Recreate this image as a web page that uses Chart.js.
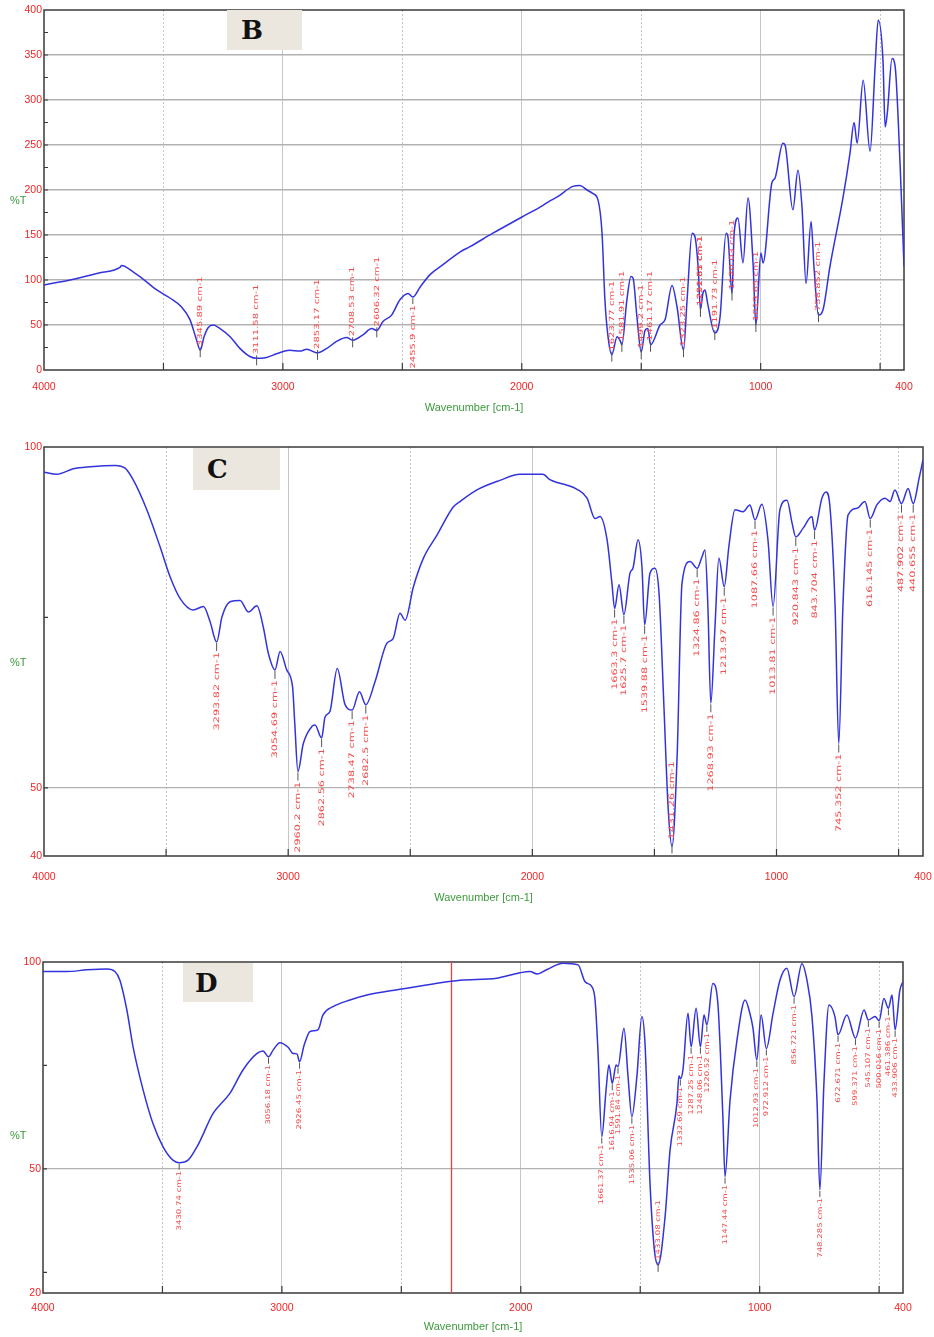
<!DOCTYPE html>
<html><head><meta charset="utf-8">
<script src="https://cdn.jsdelivr.net/npm/chart.js@4.4.1/dist/chart.umd.min.js"></script>
<style>
html,body{margin:0;padding:0;background:#fff;}
body{width:934px;height:1337px;position:relative;overflow:hidden;font-family:"Liberation Sans",Arial,sans-serif;}
.wrap{position:absolute;left:0;width:934px;}
.wrap canvas{display:block;}
.tag{position:absolute;background:#ebe7de;font-family:"DejaVu Serif","Liberation Serif",serif;font-weight:bold;font-size:26px;color:#111;box-sizing:border-box;display:flex;align-items:center;}
.pt{position:absolute;color:#3c9a3c;font-size:11px;font-family:"Liberation Sans",Arial,sans-serif;}
</style></head>
<body>
<div class="wrap" style="top:0;height:420px"><canvas id="cB" width="934" height="420"></canvas></div>
<div class="wrap" style="top:430px;height:480px"><canvas id="cC" width="934" height="480"></canvas></div>
<div class="wrap" style="top:940px;height:397px"><canvas id="cD" width="934" height="397"></canvas></div>
<div class="tag" style="left:227px;top:10px;width:75px;height:40px;padding-left:14px">B</div>
<div class="tag" style="left:193px;top:448px;width:87px;height:42px;padding-left:14px">C</div>
<div class="tag" style="left:183px;top:963px;width:70px;height:39px;padding-left:12px">D</div>
<div class="pt" style="left:10px;top:194px">%T</div>
<div class="pt" style="left:10px;top:656px">%T</div>
<div class="pt" style="left:10px;top:1129px">%T</div>
<script>
// ---------- shared axis values ----------
const X_TICKS = [400, 500, 1000, 1500, 2000, 2500, 3000, 3500, 4000];
const X_LABELED = [4000, 3000, 2000, 1000, 400];
const X_MAJOR_GRID = [1000, 2000, 3000];
const X_MINOR_GRID = [500, 1500, 2500, 3500];
const X_TITLE = 'Wavenumber [cm-1]';

// ---------- panel B ----------
const waveB = [4000,3891,3766,3682,3675,3627,3585,3528,3473,3424,3389,3361,3346,3330,3313,3292,3263,3221,3180,3138,3110,3068,3026,2971,2929,2900,2855,2816,2774,2733,2708,2665,2628,2607,2581,2545,2510,2476,2456,2426,2384,2330,2259,2217,2121,1999,1911,1882,1853,1786,1757,1727,1702,1681,1664,1652,1639,1623,1601,1589,1581,1560,1543,1534,1518,1500,1484,1472,1461,1421,1400,1371,1350,1323,1308,1287,1275,1262,1252,1242,1233,1222,1192,1170,1145,1137,1120,1111,1095,1074,1053,1032,1020,999,990,953,940,907,898,865,844,827,810,789,777,758,739,710,655,626,609,596,571,542,521,508,488,479,470,450,437,416,400];
const transB = [94.5,100,108,114,116,109,101,89,80,70,56,33,22,37,47,50,46,37,24,15,13,14,18,22,21,23,19,24,32,36,33,39,46,44,54,61,78,85,81,92,106,117,131,137,152,170,183,188,192,204,205,200,196,189,152,78,37,17,37,33,28,78,104,102,59,20,44,46,28,50,56,94,70,22,78,152,148,115,67,85,89,74,41,59,152,148,85,152,169,119,191,119,50,130,119,208,213,252,250,178,222,181,96,165,115,61,67,115,192,241,275,252,322,243,337,389,344,270,285,346,337,226,115];
const peaksB = [3345.89,3111.58,2853.17,2708.53,2606.32,2455.9,1623.77,1581.91,1499.2,1461.17,1323.25,1251.51,1222.65,1191.73,1120.03,1019.65,758.852];
const peakSideB = ['a','a','a','a','a','b','a','a','a','a','a','a','a','a','a','a','a'];
const yTicksB = [0,25,50,75,100,125,150,175,200,225,250,275,300,325,350,375,400];
const yLabelsB = [0,50,100,150,200,250,300,350,400];
const yGridB = [50,100,150,200,250,300,350];

// ---------- panel C ----------
const waveC = [4000,3948,3880,3811,3709,3668,3635,3579,3525,3484,3443,3389,3347,3320,3293,3271,3238,3197,3163,3128,3102,3081,3054,3033,3006,2982,2973,2960,2938,2903,2890,2863,2849,2829,2799,2767,2738,2708,2682,2644,2596,2570,2542,2521,2487,2446,2390,2324,2296,2227,2133,2051,1957,1928,1899,1858,1817,1776,1743,1723,1694,1674,1663,1645,1625,1600,1588,1567,1551,1540,1518,1498,1481,1461,1444,1428,1407,1387,1354,1325,1305,1293,1281,1269,1252,1236,1214,1195,1170,1137,1109,1088,1060,1035,1014,986,957,936,921,891,855,844,814,797,781,760,745,728,707,670,638,616,589,556,535,515,488,461,440,416,400];
const transC = [96.3,96.0,96.8,97.1,97.3,96.9,95.2,90.8,85.4,81.0,77.8,76.1,76.6,74.4,71.4,75.1,77.3,77.5,75.8,76.7,73.6,69.7,67.3,70.0,67.3,64.8,59.5,52.4,56.5,59.0,59.2,57.3,60.4,61.2,67.5,62.2,61.4,64.1,62.2,65.6,71.2,71.9,75.6,74.6,79.5,83.7,87.1,91.2,92.0,93.7,95.1,96.0,96.0,95.2,94.8,94.4,93.8,92.5,89.5,89.8,86.4,80.0,76.3,79.8,75.4,81.5,82.2,86.4,82.4,73.9,81.5,82.2,78.5,61.9,47.2,41.4,54.6,80.0,83.2,82.2,83.9,84.9,76.6,62.4,73.6,83.7,79.5,85.4,90.8,90.5,91.5,89.3,91.6,86.4,76.6,90.8,92.2,88.8,86.8,88.1,89.8,87.8,92.5,93.4,91.2,76.6,56.5,76.6,90.0,91.0,92.0,89.5,91.5,92.5,92.0,93.7,91.7,93.9,91.7,95.4,98.1];
const peaksC = [3293.82,3054.69,2960.2,2862.56,2738.47,2682.5,1663.3,1625.7,1539.88,1431.26,1324.86,1268.93,1213.97,1087.66,1013.81,920.843,843.704,745.352,616.145,487.902,440.655];
const peakSideC = ['b','b','b','b','b','b','b','b','b','a','b','b','b','b','b','b','b','b','b','b','b'];
const yTicksC = [40,50,75,100];
const yLabelsC = [40,50,100];
const yGridC = [50];

// ---------- panel D ----------
const waveD = [4000,3900,3816,3732,3699,3678,3649,3623,3581,3540,3498,3456,3430,3393,3351,3288,3217,3163,3104,3079,3056,3037,3008,2974,2953,2937,2926,2907,2882,2849,2828,2786,2715,2644,2506,2367,2254,2100,2003,1961,1932,1890,1823,1760,1731,1702,1689,1677,1661,1643,1631,1617,1601,1593,1568,1551,1535,1514,1493,1480,1459,1440,1425,1396,1375,1346,1338,1332,1321,1300,1287,1266,1248,1233,1221,1196,1175,1154,1145,1124,1095,1061,1041,1028,1012,994,972,944,915,886,856,823,802,781,760,748,731,710,685,672,635,599,563,545,517,500,480,461,446,433,413,400];
const transD = [97.7,97.7,98.1,98.3,97.7,95.6,88.4,79.5,69.1,61.0,55.4,52.1,51.5,52.1,55.8,63.4,68.3,73.9,77.9,78.5,77.1,78.7,80.5,79.4,77.9,77.8,75.9,79.9,83.2,83.6,87.2,89.2,90.8,92.0,93.4,94.7,95.6,96.1,97.4,97.7,97.1,98.2,99.7,99.3,95.2,94.0,90.8,78.7,57.8,69.1,75.1,70.7,75.1,74.7,84.0,72.3,62.6,72.3,86.8,80.3,46.5,30.0,26.8,38.4,54.6,66.0,72.5,71.8,74.0,87.6,79.5,88.8,79.5,87.2,84.8,94.8,90.0,62.6,48.1,66.6,81.1,90.8,87.6,84.0,76.3,87.2,79.1,87.6,95.6,98.5,91.6,99.6,95.6,86.8,66.6,44.9,70.7,89.6,86.8,82.4,87.2,81.6,88.4,86.0,86.8,85.8,91.2,88.8,92.0,83.6,93.2,95.2];
const peaksD = [3430.74,3056.18,2926.45,1661.37,1616.94,1591.84,1535.06,1433.08,1332.69,1287.25,1248.06,1220.52,1147.44,1012.93,972.912,856.721,748.285,672.671,599.371,545.107,500.016,461.386,433.906];
const peakSideD = ['b','b','b','b','b','b','b','a','b','b','b','b','b','b','b','b','b','b','b','b','b','b','b'];
const yTicksD = [20,25,50,75,100];
const yLabelsD = [20,50,100];
const yGridD = [50];
const markerD = 2290;

// ---------- drawing ----------
function localMinima(t) {
  const out = [];
  for (let i = 1; i < t.length - 1; i++) if (t[i] < t[i-1] && t[i] <= t[i+1]) out.push(i);
  return out;
}

function makePanel(p) {
  const canvas = document.getElementById(p.id);
  const data = p.wave.map((w, i) => ({x: w, y: p.t[i]}));
  const datasets = [{data, xAxisID: 'x', yAxisID: 'y', borderColor: '#3333dd', borderWidth: 1.5,
    pointRadius: 0, cubicInterpolationMode: 'monotone', fill: false}];
  if (p.marker) datasets.push({data: [{x: p.marker, y: p.ymin}, {x: p.marker, y: p.ymax}], xAxisID: 'x', yAxisID: 'y',
    borderColor: '#e8403a', borderWidth: 1.3, pointRadius: 0, fill: false});
  const mins = localMinima(p.t);

  const framePlugin = {
    id: 'frame' + p.id,
    beforeDatasetsDraw(chart) {
      const {ctx, chartArea: a} = chart;
      const xs = chart.scales.x, ys = chart.scales.y;
      ctx.save();
      ctx.strokeStyle = '#3a3a3a';
      ctx.lineWidth = 1.5;
      ctx.strokeRect(a.left, a.top, a.right - a.left, a.bottom - a.top);
      ctx.beginPath();
      ctx.lineWidth = 1.2;
      xs.ticks.forEach(t => {
        if (t.value === xs.min || t.value === xs.max) return;
        const px = xs.getPixelForValue(t.value);
        ctx.moveTo(px, a.bottom); ctx.lineTo(px, a.bottom - 7);
      });
      ys.ticks.forEach(t => {
        if (t.value === ys.min || t.value === ys.max) return;
        const py = ys.getPixelForValue(t.value);
        ctx.moveTo(a.left, py); ctx.lineTo(a.left + 4, py);
      });
      ctx.stroke();
      ctx.restore();
    }
  };

  const peakPlugin = {
    id: 'peaks' + p.id,
    afterDatasetsDraw(chart) {
      const {ctx} = chart;
      const xs = chart.scales.x, ys = chart.scales.y;
      p.peaks.forEach((w, k) => {
        let best = mins[0], bd = 1e9;
        mins.forEach(i => { const d = Math.abs(p.wave[i] - w); if (d < bd) { bd = d; best = i; } });
        const px = xs.getPixelForValue(p.wave[best]);
        const py = ys.getPixelForValue(p.t[best]);
        const above = p.side[k] === 'a';
        ctx.save();
        ctx.strokeStyle = '#555';
        ctx.lineWidth = 1;
        ctx.beginPath();
        ctx.moveTo(px, above ? py - 3 : py + 1);
        ctx.lineTo(px, above ? py + 7 : py + p.gapB - 1);
        ctx.stroke();
        ctx.translate(px, above ? py - p.gapA : py + p.gapB);
        ctx.rotate(-Math.PI / 2);
        ctx.scale(p.sx, 1);
        ctx.font = p.lfs + 'px "DejaVu Sans"';
        ctx.fillStyle = '#f44a4a';
        ctx.textAlign = above ? 'left' : 'right';
        ctx.textBaseline = 'middle';
        ctx.fillText(String(w) + ' cm-1', 0, 0);
        ctx.restore();
      });
    }
  };

  const tickFont = {family: '"Liberation Sans", Arial, sans-serif', size: 10.5};
  new Chart(canvas, {
    type: 'line',
    data: {datasets},
    options: {
      responsive: false, animation: false, events: [],
      layout: {padding: {left: 0, top: p.top, right: 934 - p.right, bottom: p.h - p.axisBottom}},
      plugins: {legend: {display: false}, tooltip: {enabled: false}},
      scales: {
        x: {
          type: 'linear', reverse: true, min: 400, max: 4000, position: 'bottom',
          afterBuildTicks: s => { s.ticks = X_TICKS.map(v => ({value: v})); },
          afterFit: s => { s.height = p.axisBottom - p.bottom; s.paddingLeft = 0; s.paddingRight = 0; },
          ticks: {autoSkip: false, maxRotation: 0, minRotation: 0, padding: p.xTickPad, color: '#ee2424', font: tickFont,
            callback: v => X_LABELED.includes(v) ? String(v) : ''},
          grid: {drawTicks: false, lineWidth: 1,
            color: c => (c.tick && X_MAJOR_GRID.includes(c.tick.value)) ? '#c6c6c6' : 'rgba(0,0,0,0)'},
          border: {display: false},
          title: {display: true, text: X_TITLE, color: '#3c9a3c', padding: 0,
            font: {family: '"Liberation Sans", Arial, sans-serif', size: 11}}
        },
        x2: {
          type: 'linear', reverse: true, min: 400, max: 4000, position: 'bottom',
          afterBuildTicks: s => { s.ticks = X_MINOR_GRID.map(v => ({value: v})); },
          afterFit: s => { s.height = 0; s.paddingLeft = 0; s.paddingRight = 0; },
          ticks: {display: false},
          grid: {drawTicks: false, lineWidth: 1, color: '#c6c6c6'},
          border: {display: false, dash: [2, 2]}
        },
        y: {
          type: 'linear', min: p.ymin, max: p.ymax, position: 'left',
          afterBuildTicks: s => { s.ticks = p.yTicks.map(v => ({value: v})); },
          afterFit: s => { s.width = p.left; s.paddingTop = 0; s.paddingBottom = 0; },
          ticks: {padding: 2, color: '#ee2424', font: tickFont,
            callback: v => p.yLabels.includes(v) ? String(v) : ''},
          grid: {drawTicks: false, lineWidth: p.yGridW,
            color: c => (c.tick && p.yGrid.includes(c.tick.value)) ? '#b2b2b2' : 'rgba(0,0,0,0)'},
          border: {display: false}
        }
      }
    },
    plugins: [framePlugin, peakPlugin]
  });
}

makePanel({id: 'cB', wave: waveB, t: transB, peaks: peaksB, side: peakSideB,
  yTicks: yTicksB, yLabels: yLabelsB, yGrid: yGridB, ymin: 0, ymax: 400, yGridW: 1.4,
  h: 420, top: 10, bottom: 370, left: 44, right: 904, axisBottom: 414.6, xTickPad: 11,
  gapA: 4, gapB: 8, lfs: 7, sx: 1.43});
makePanel({id: 'cC', wave: waveC, t: transC, peaks: peaksC, side: peakSideC,
  yTicks: yTicksC, yLabels: yLabelsC, yGrid: yGridC, ymin: 40, ymax: 100, yGridW: 1.2,
  h: 480, top: 17, bottom: 426, left: 44, right: 923, axisBottom: 474.6, xTickPad: 15,
  gapA: 7, gapB: 10, lfs: 7.5, sx: 1.5});
makePanel({id: 'cD', wave: waveD, t: transD, peaks: peaksD, side: peakSideD,
  yTicks: yTicksD, yLabels: yLabelsD, yGrid: yGridD, ymin: 20, ymax: 100, yGridW: 1.2,
  h: 397, top: 22, bottom: 353, left: 43, right: 903, axisBottom: 393.6, xTickPad: 9,
  gapA: 5, gapB: 8, lfs: 6.5, sx: 1.32, marker: markerD});
</script>
</body></html>
